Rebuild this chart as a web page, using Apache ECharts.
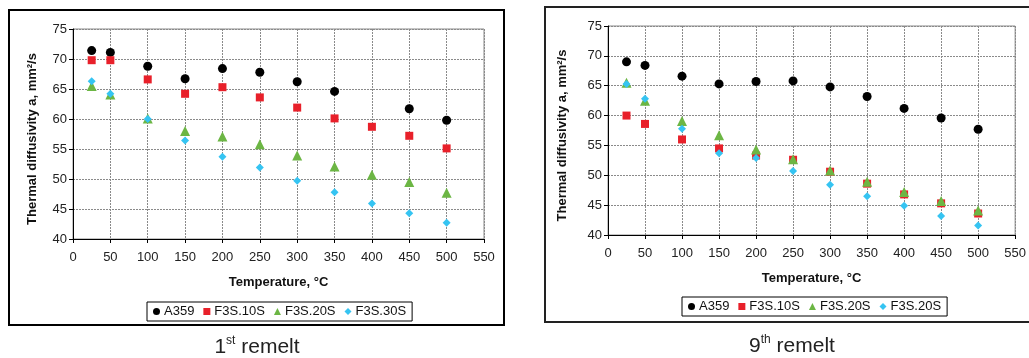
<!DOCTYPE html>
<html><head><meta charset="utf-8">
<script src="https://cdn.jsdelivr.net/npm/echarts@6/dist/echarts.min.js"></script>
<style>html,body{margin:0;padding:0;background:#fff}#c{width:1029px;height:358px}</style>
</head><body><div id="c"></div><script>
// ---- data ----
const temps = [25, 50, 100, 150, 200, 250, 300, 350, 400, 450, 500];
const legend1 = ['A359', 'F3S.10S', 'F3S.20S', 'F3S.30S'];
const legend9 = ['A359', 'F3S.10S', 'F3S.20S', 'F3S.20S'];
const r1_A359   = [71.4, 71.1, 68.8, 66.7, 68.4, 67.8, 66.2, 64.6, null, 61.7, 59.8];
const r1_F3S10S = [69.8, 69.8, 66.6, 64.2, 65.3, 63.6, 61.9, 60.1, 58.7, 57.2, 55.1];
const r1_F3S20S = [65.5, 64.1, 60.1, 58.0, 57.1, 55.8, 53.9, 52.1, 50.7, 49.5, 47.7];
const r1_F3S30S = [66.3, 64.2, 60.0, 56.4, 53.7, 51.9, 49.7, 47.8, 45.9, 44.3, 42.7];
const r9_A359   = [69.0, 68.4, 66.6, 65.3, 65.7, 65.8, 64.8, 63.2, 61.2, 59.6, 57.7];
const r9_F3S10S = [60.0, 58.6, 56.0, 54.5, 53.3, 52.6, 50.6, 48.6, 46.8, 45.3, 43.6];
const r9_F3S20S = [65.5, 62.5, 59.1, 56.7, 54.3, 52.7, 50.8, 48.9, 47.2, 45.7, 44.1];
const r9_F3S20Sb= [65.3, 62.8, 57.8, 53.7, 52.9, 50.7, 48.4, 46.5, 44.9, 43.2, 41.6];
const captions = [['1', 'st', ' remelt'], ['9', 'th', ' remelt']];
const xName = 'Temperature, °C';
const yName = 'Thermal diffusivity a, mm²/s';

// ---- style ----
const FONT = 'Liberation Sans, Arial, sans-serif';
const colors = ['#000000', '#e8202a', '#6cb644', '#35c4f2'];
const symbols = ['circle', 'rect', 'triangle', 'diamond'];
const sizes = [9, 8, 10, 8];

function pair(xs, ys) { return xs.map((x, i) => [x, ys[i]]); }

const chart = echarts.init(document.getElementById('c'), null, {renderer: 'canvas'});

function xAxis(gi) {
  return {
    gridIndex: gi, type: 'value', min: 0, max: 550, interval: 50,
    name: xName, nameLocation: 'middle', nameGap: 37,
    nameTextStyle: {fontFamily: FONT, fontSize: 13, fontWeight: 'bold', color: '#111'},
    axisLine: {show: true, lineStyle: {color: '#000', width: 1}},
    axisTick: {show: true, length: 4, lineStyle: {color: '#000'}},
    axisLabel: {fontFamily: FONT, fontSize: 13, color: '#222', margin: 12},
    splitLine: {show: true, lineStyle: {color: '#8a8a8a', width: 1, type: [2, 1]}}
  };
}
function yAxis(gi, gap) {
  return {
    gridIndex: gi, type: 'value', min: 40, max: 75, interval: 5,
    name: yName, nameLocation: 'middle', nameGap: gap, nameRotate: 90,
    nameTextStyle: {fontFamily: FONT, fontSize: 13, fontWeight: 'bold', color: '#111', padding: [0, 10, 0, 0]},
    axisLine: {show: true, onZero: false, lineStyle: {color: '#000', width: 1}},
    axisTick: {show: true, length: 4, lineStyle: {color: '#000'}},
    axisLabel: {fontFamily: FONT, fontSize: 13, color: '#222', margin: 6},
    splitLine: {show: true, lineStyle: {color: '#8a8a8a', width: 1, type: [2, 1]}}
  };
}

const sets1 = [r1_A359, r1_F3S10S, r1_F3S20S, r1_F3S30S];
const sets9 = [r9_A359, r9_F3S10S, r9_F3S20S, r9_F3S20Sb];
const names1 = legend1.map((n, i) => 'L' + i);
const names9 = legend9.map((n, i) => 'R' + i);

const series = [];
sets1.forEach((d, i) => series.push({
  name: names1[i], type: 'scatter', xAxisIndex: 0, yAxisIndex: 0,
  symbol: symbols[i], symbolSize: sizes[i], itemStyle: {color: colors[i], opacity: 1},
  data: pair(temps, d)
}));
sets9.forEach((d, i) => series.push({
  name: names9[i], type: 'scatter', xAxisIndex: 1, yAxisIndex: 1,
  symbol: symbols[i], symbolSize: sizes[i], itemStyle: {color: colors[i], opacity: 1},
  data: pair(temps, d)
}));

function legend(names, labels, left, top) {
  return {
    left: left, top: top, orient: 'horizontal',
    data: names.map((n, i) => ({name: n, icon: symbols[i], itemStyle: {color: colors[i], opacity: 1}})),
    formatter: n => labels[names.indexOf(n)],
    itemWidth: 7, itemHeight: 7, itemGap: 9,
    padding: [3, 6, 3, 6],
    borderColor: '#000', borderWidth: 1, backgroundColor: '#fff',
    textStyle: {fontFamily: FONT, fontSize: 13, color: '#111', padding: [0, 0, 0, -1]},
    selectedMode: false
  };
}

function caption(parts, cx, cy) {
  return {
    type: 'text', x: cx, y: cy,
    style: {
      text: '{a|' + parts[0] + '}{s|' + parts[1] + '}{a|' + parts[2] + '}',
      align: 'center', verticalAlign: 'middle',
      rich: {
        a: {fontFamily: FONT, fontSize: 21, fill: '#222', lineHeight: 24},
        s: {fontFamily: FONT, fontSize: 12, fill: '#222', verticalAlign: 'top', lineHeight: 24, padding: [0, 0, 10, 0]}
      }
    }
  };
}

chart.setOption({
  animation: false,
  backgroundColor: '#fff',
  grid: [
    {left: 73, top: 29, width: 411, height: 210, show: true, borderColor: '#8a8a8a', borderWidth: 1},
    {left: 608, top: 26, width: 411, height: 209, show: true, borderColor: '#8a8a8a', borderWidth: 1}
  ],
  xAxis: [xAxis(0), xAxis(1)],
  yAxis: [yAxis(0, 34), yAxis(1, 39)],
  legend: [legend(names1, legend1, 147, 302), legend(names9, legend9, 682, 297)],
  graphic: [
    {type: 'rect', shape: {x: 9, y: 10, width: 495, height: 315}, style: {fill: 'none', stroke: '#000', lineWidth: 2}, z: -1},
    {type: 'rect', shape: {x: 545, y: 7, width: 520, height: 315}, style: {fill: 'none', stroke: '#222', lineWidth: 2}, z: -1},
    caption(captions[0], 257, 347),
    caption(captions[1], 792, 346)
  ],
  series: series
});
</script></body></html>
